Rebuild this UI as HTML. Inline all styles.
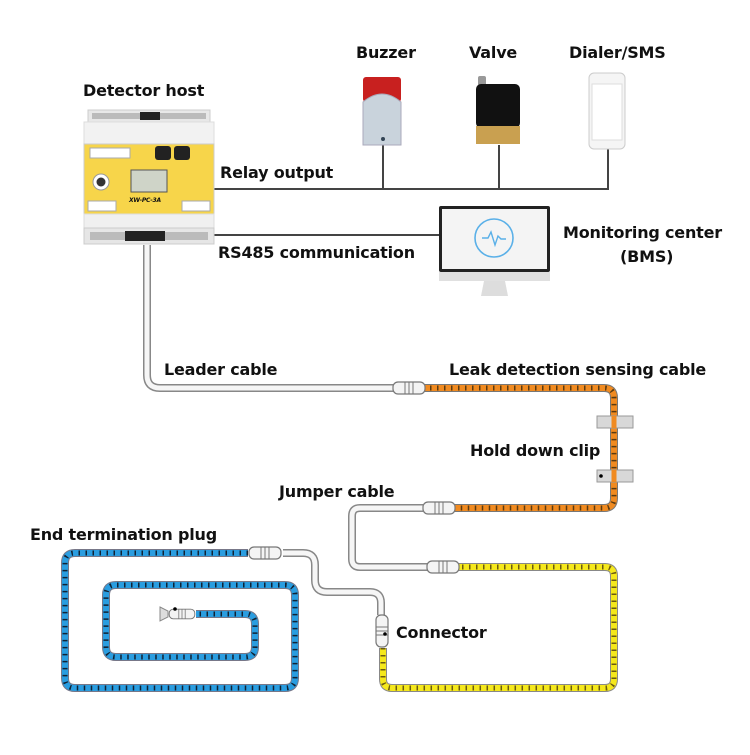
<!DOCTYPE html>
<html><head><meta charset="utf-8"><style>
html,body{margin:0;padding:0;background:#fff;}
svg text{font-family:"Comic Sans MS","DejaVu Sans","Liberation Sans",sans-serif;font-weight:bold;font-size:16px;letter-spacing:-0.2px;fill:#111;}
</style></head><body>
<svg width="750" height="750" viewBox="0 0 750 750" xmlns="http://www.w3.org/2000/svg">
<defs>
<g id="conn">
 <rect x="-16" y="-6" width="32" height="12" rx="5" fill="#f4f4f4" stroke="#777" stroke-width="1.2"/>
 <line x1="-4" y1="-6" x2="-4" y2="6" stroke="#777"/><line x1="0" y1="-6" x2="0" y2="6" stroke="#777"/><line x1="4" y1="-6" x2="4" y2="6" stroke="#777"/>
</g>
</defs>
<g stroke="#444" stroke-width="2" fill="none">
 <path d="M210 189 H608 V148"/>
 <path d="M383 189 V145"/><path d="M499 189 V145"/>
 <path d="M210 235 H439"/>
</g>
<g fill="none" stroke-linejoin="round">
 <path d="M147 245 V375 Q147 388 160 388 H395" stroke="#888" stroke-width="8"/>
 <path d="M147 245 V375 Q147 388 160 388 H395" stroke="#f6f6f6" stroke-width="5"/>
 <path d="M423 508 H360 Q352 508 352 516 V559 Q352 567 360 567 H430" stroke="#888" stroke-width="8"/>
 <path d="M423 508 H360 Q352 508 352 516 V559 Q352 567 360 567 H430" stroke="#f6f6f6" stroke-width="5"/>
 <path d="M283 553 H303 Q315 553 315 565 V580 Q315 592 327 592 H370 Q381 592 381 603 V615" stroke="#888" stroke-width="8"/>
 <path d="M283 553 H303 Q315 553 315 565 V580 Q315 592 327 592 H370 Q381 592 381 603 V615" stroke="#f6f6f6" stroke-width="5"/>
</g>
<g fill="none" stroke-linejoin="round">
 <path d="M423 388 H604 Q614 388 614 398 V498 Q614 508 604 508 H453" stroke="#777" stroke-width="8"/>
 <path d="M423 388 H604 Q614 388 614 398 V498 Q614 508 604 508 H453" stroke="#f08a20" stroke-width="6"/>
 <path d="M423 388 H604 Q614 388 614 398 V498 Q614 508 604 508 H453" stroke="#5a3a10" stroke-width="5" stroke-dasharray="1.5 5.5"/>
 <path d="M455 567 H605 Q614 567 614 576 V679 Q614 688 605 688 H392 Q383 688 383 679 V648" stroke="#888" stroke-width="8"/>
 <path d="M455 567 H605 Q614 567 614 576 V679 Q614 688 605 688 H392 Q383 688 383 679 V648" stroke="#f5e81c" stroke-width="6"/>
 <path d="M455 567 H605 Q614 567 614 576 V679 Q614 688 605 688 H392 Q383 688 383 679 V648" stroke="#6a5a10" stroke-width="5" stroke-dasharray="1.5 5.5"/>
 <path d="M248 553 H75 Q65 553 65 563 V678 Q65 688 75 688 H285 Q295 688 295 678 V595 Q295 585 285 585 H116 Q106 585 106 595 V647 Q106 657 116 657 H245 Q255 657 255 647 V624 Q255 614 245 614 H196" stroke="#778" stroke-width="8"/>
 <path d="M248 553 H75 Q65 553 65 563 V678 Q65 688 75 688 H285 Q295 688 295 678 V595 Q295 585 285 585 H116 Q106 585 106 595 V647 Q106 657 116 657 H245 Q255 657 255 647 V624 Q255 614 245 614 H196" stroke="#2a9de0" stroke-width="6"/>
 <path d="M248 553 H75 Q65 553 65 563 V678 Q65 688 75 688 H285 Q295 688 295 678 V595 Q295 585 285 585 H116 Q106 585 106 595 V647 Q106 657 116 657 H245 Q255 657 255 647 V624 Q255 614 245 614 H196" stroke="#123" stroke-width="5" stroke-dasharray="1.5 5.5"/>
</g>
<use href="#conn" x="409" y="388"/>
<use href="#conn" x="439" y="508"/>
<use href="#conn" x="443" y="567"/>
<use href="#conn" x="265" y="553"/>
<g transform="translate(382 631) rotate(90)"><use href="#conn"/></g>
<circle cx="385" cy="634" r="1.8" fill="#000"/>
<g transform="translate(182 614)"><use href="#conn" transform="scale(0.8)"/></g>
<path d="M160 607 L168 611 V617 L160 621 Z" fill="#ddd" stroke="#888"/>
<circle cx="175" cy="609" r="1.8" fill="#000"/>
<g fill="#d8d8d8" stroke="#999">
 <rect x="597" y="416" width="36" height="12"/><rect x="597" y="470" width="36" height="12"/>
</g>
<path d="M614 416 V428 M614 470 V482" stroke="#f08a20" stroke-width="5"/>
<circle cx="601" cy="476" r="1.8" fill="#000"/>
<g>
 <rect x="88" y="110" width="122" height="12" fill="#e8e8e8" stroke="#ccc"/>
 <rect x="92" y="113" width="114" height="6" fill="#bbb"/><rect x="140" y="112" width="20" height="8" fill="#222"/>
 <rect x="84" y="122" width="130" height="22" fill="#f2f2f2" stroke="#ddd"/>
 <rect x="84" y="144" width="130" height="70" fill="#f7d54a" stroke="#ccc"/>
 <rect x="84" y="214" width="130" height="14" fill="#f0f0f0" stroke="#ddd"/>
 <rect x="84" y="228" width="130" height="16" fill="#e6e6e6" stroke="#ccc"/>
 <rect x="90" y="232" width="118" height="8" fill="#bbb"/><rect x="125" y="231" width="40" height="10" fill="#222"/>
 <rect x="90" y="148" width="40" height="10" fill="#fff" stroke="#aaa"/>
 <rect x="155" y="146" width="16" height="14" rx="3" fill="#222"/><rect x="174" y="146" width="16" height="14" rx="3" fill="#222"/>
 <circle cx="101" cy="182" r="8" fill="#fff" stroke="#999"/><circle cx="101" cy="182" r="4.5" fill="#333"/>
 <rect x="131" y="170" width="36" height="22" fill="#cfd4c8" stroke="#555"/>
 <rect x="88" y="201" width="28" height="10" fill="#fff" stroke="#aaa"/>
 <rect x="182" y="201" width="28" height="10" fill="#fff" stroke="#aaa"/>
 <text x="129" y="202" style="font-size:6px;font-style:italic">XW-PC-3A</text>
</g>
<rect x="363" y="77" width="38" height="25" rx="3" fill="#c8201f"/>
<path d="M363 102 Q382 86 401 102 V145 H363 Z" fill="#c9d3dc" stroke="#aab"/>
<circle cx="383" cy="139" r="2" fill="#345"/>
<rect x="478" y="76" width="8" height="10" rx="2" fill="#999"/>
<rect x="476" y="84" width="44" height="44" rx="5" fill="#111"/>
<rect x="476" y="126" width="44" height="18" fill="#c9a050"/>
<rect x="589" y="73" width="36" height="76" rx="5" fill="#f5f5f5" stroke="#ccc"/>
<rect x="592" y="84" width="30" height="56" fill="#fff" stroke="#ddd"/>
<rect x="439" y="206" width="111" height="66" rx="2" fill="#222"/>
<rect x="442" y="209" width="105" height="60" fill="#f4f4f4"/>
<rect x="439" y="272" width="111" height="9" fill="#e0e0e0"/>
<path d="M484 281 H505 L508 296 H481 Z" fill="#ddd"/>
<circle cx="494" cy="238" r="19" fill="none" stroke="#5ab0e8" stroke-width="1.6"/>
<path d="M482 238 H488 L491 232 L495 245 L498 236 L501 239 H506" fill="none" stroke="#5ab0e8" stroke-width="1.4"/>
<text x="83" y="96">Detector host</text>
<text x="356" y="58">Buzzer</text>
<text x="469" y="58">Valve</text>
<text x="569" y="58">Dialer/SMS</text>
<text x="220" y="178">Relay output</text>
<text x="218" y="258">RS485 communication</text>
<text x="563" y="238">Monitoring center</text>
<text x="620" y="262">(BMS)</text>
<text x="164" y="375">Leader cable</text>
<text x="449" y="375">Leak detection sensing cable</text>
<text x="470" y="456">Hold down clip</text>
<text x="279" y="497">Jumper cable</text>
<text x="30" y="540">End termination plug</text>
<text x="396" y="638">Connector</text>
</svg>
</body></html>
